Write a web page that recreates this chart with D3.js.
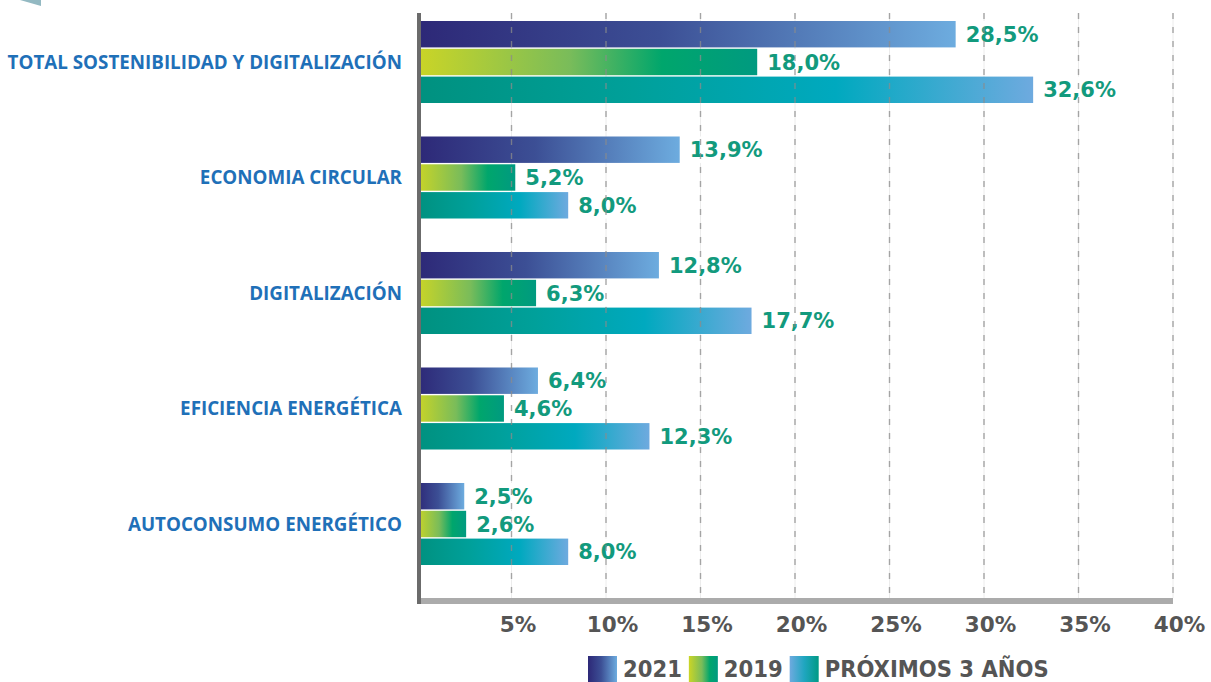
<!DOCTYPE html>
<html>
<head>
<meta charset="utf-8">
<script src="https://cdn.jsdelivr.net/npm/d3@7"></script>
<style>
body{margin:0;background:#fff;}
svg{display:block;}
</style>
</head>
<body>
<script>
// data
var categories = ["TOTAL SOSTENIBILIDAD Y DIGITALIZACIÓN", "ECONOMIA CIRCULAR", "DIGITALIZACIÓN", "EFICIENCIA ENERGÉTICA", "AUTOCONSUMO ENERGÉTICO"]
var series = ["2021", "2019", "PRÓXIMOS 3 AÑOS"]
var v2021 = [28.5, 13.9, 12.8, 6.4, 2.5]
var v2019 = [18.0, 5.2, 6.3, 4.6, 2.6]
var vProx = [32.6, 8.0, 17.7, 12.3, 8.0]
var tickValues = [5, 10, 15, 20, 25, 30, 35, 40]

var w = 1211, h = 682
var svg = d3.select("body").append("svg").attr("width", w).attr("height", h)

var defs = svg.append("defs")
function grad(id, stops){
	var g = defs.append("linearGradient").attr("id", id)
		.attr("x1", "0%").attr("x2", "100%").attr("y1", "0%").attr("y2", "0%")
	stops.forEach(function(s){
		g.append("stop").attr("offset", s[0]).attr("stop-color", s[1])
	})
}
grad("g2021", [["0%", "#2d2877"], ["45%", "#3c4f95"], ["100%", "#6dacdf"]])
grad("g2019", [["0%", "#cbd526"], ["45%", "#79bc5a"], ["72%", "#00a66c"], ["100%", "#009a80"]])
grad("gProx", [["0%", "#00917f"], ["35%", "#00a09a"], ["68%", "#00a9bf"], ["100%", "#6eaadf"]])
grad("lProx", [["0%", "#6eaadf"], ["50%", "#20a6c0"], ["100%", "#009a85"]])
var fills = ["url(#g2021)", "url(#g2019)", "url(#gProx)"]
var legendFills = ["url(#g2021)", "url(#g2019)", "url(#lProx)"]

// decorative corner piece
svg.append("polygon").attr("points", "20,0 41,0 41,6").attr("fill", "#93b9c2")

var x = d3.scaleLinear().domain([0, 40]).range([417, 1173])
var y0 = d3.scaleBand().domain(categories).range([21, 565]).paddingInner(0.29).paddingOuter(0)
var y1 = d3.scaleBand().domain(series).range([0, y0.bandwidth()]).paddingInner(0.05)

var rows = categories.map(function(c, i){
	return {cat: c, vals: [v2021[i], v2019[i], vProx[i]]}
})

// faint solid grid under the bars
svg.append("g").selectAll("line")
	.data(tickValues)
	.enter()
	.append("line")
	.attr("x1", function(d){return x(d)}).attr("x2", function(d){return x(d)})
	.attr("y1", 13).attr("y2", 598)
	.attr("stroke", "#ececec").attr("stroke-width", 1)

var groups = svg.append("g").selectAll("g")
	.data(rows)
	.enter()
	.append("g")
	.attr("transform", function(d){return "translate(0," + y0(d.cat) + ")"})

groups.selectAll("rect")
	.data(function(d){return d.vals})
	.enter()
	.append("rect")
	.attr("x", x(0))
	.attr("y", function(d, i){return y1(series[i])})
	.attr("width", function(d){return x(d) - x(0)})
	.attr("height", y1.bandwidth())
	.attr("fill", function(d, i){return fills[i]})

// dashed grid on top
svg.append("g").selectAll("line")
	.data(tickValues)
	.enter()
	.append("line")
	.attr("x1", function(d){return x(d)}).attr("x2", function(d){return x(d)})
	.attr("y1", 13).attr("y2", 598)
	.attr("stroke", "#8c8c8c").attr("stroke-width", 1.4)
	.attr("stroke-dasharray", "6,8")
	.attr("opacity", 0.75)

// value labels with white backing
var labels = groups.selectAll("g.lab")
	.data(function(d){return d.vals})
	.enter()
	.append("g").attr("class", "lab")
labels.append("rect")
	.attr("fill", "#fff")
labels.append("text")
	.attr("x", function(d){return x(d) + 10})
	.attr("y", function(d, i){return y1(series[i]) + y1.bandwidth() / 2})
	.attr("dy", "0.36em")
	.attr("font-family", "DejaVu Sans")
	.attr("font-weight", "bold")
	.attr("font-size", 21)
	.attr("fill", "#129a7d")
	.text(function(d){return d.toFixed(1).replace(".", ",") + "%"})
labels.each(function(d, i){
	var t = d3.select(this).select("text")
	var len = t.node().getComputedTextLength()
	d3.select(this).select("rect")
		.attr("x", x(d) + 4).attr("width", len + 10)
		.attr("y", y1(series[i])).attr("height", y1.bandwidth())
})

// category labels
groups.append("text")
	.attr("x", 402)
	.attr("y", y0.bandwidth() / 2)
	.attr("dy", "0.36em")
	.attr("text-anchor", "end")
	.attr("font-family", "Open Sans")
	.attr("font-weight", "bold")
	.attr("font-size", 18.8)
	.attr("fill", "#1f70b8")
	.text(function(d){return d.cat})

// axes lines
svg.append("rect").attr("x", 420).attr("y", 598).attr("width", 753).attr("height", 6).attr("fill", "#ababab")
svg.append("rect").attr("x", 417).attr("y", 13).attr("width", 4).attr("height", 591).attr("fill", "#6b6b6b")

var xAxis = d3.axisBottom(x).tickValues(tickValues).tickSize(0).tickPadding(13)
	.tickFormat(function(d){return d + "%"})
var ax = svg.append("g").attr("transform", "translate(6,604)").call(xAxis)
ax.select(".domain").remove()
ax.selectAll("text")
	.attr("font-family", "DejaVu Sans")
	.attr("font-weight", "bold")
	.attr("font-size", 21.5)
	.attr("fill", "#555")

// legend
var leg = svg.append("g")
var lx = 588
series.forEach(function(s, i){
	leg.append("rect").attr("x", lx).attr("y", 656).attr("width", 29).attr("height", 26)
		.attr("fill", legendFills[i])
	var t = leg.append("text").attr("x", lx + 35).attr("y", 677)
		.attr("font-family", "DejaVu Sans Condensed")
		.attr("font-weight", "bold")
		.attr("font-size", 23.5)
		.attr("fill", "#555")
		.text(s)
	lx = lx + 35 + t.node().getComputedTextLength() + 7
})
</script>
</body>
</html>
